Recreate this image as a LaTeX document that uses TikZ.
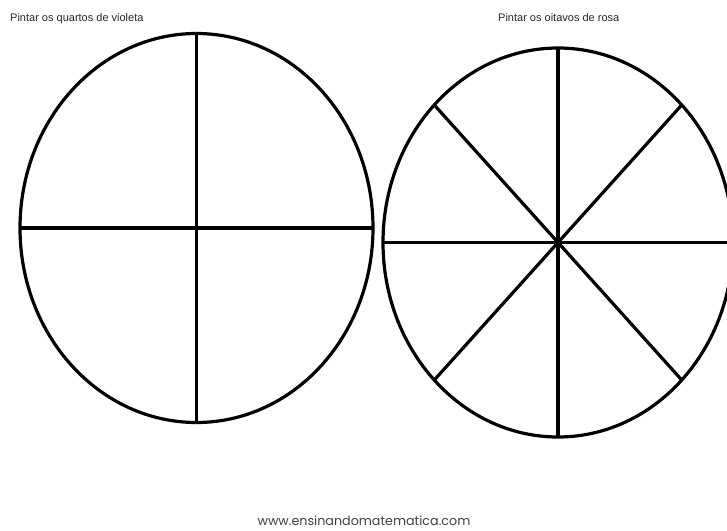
\documentclass[tikz,border=0pt]{standalone}
\usepackage{fontspec}
\usetikzlibrary{calc}
\setmainfont{Liberation Sans}
\newfontfamily\sitefont{Poppins}
\tikzset{
  disc/.style={draw=black, line width=3.2pt},
  cut/.style={draw=black, line width=3.2pt},
  caption/.style={inner sep=0pt, font=\fontsize{11}{13}\selectfont, text=black!85},
  site/.style={inner sep=0pt, font=\sitefont\fontsize{12.7}{14}\selectfont, text=black!75}
}
\begin{document}
\begin{tikzpicture}[x=1pt,y=-1pt]
\useasboundingbox (0,0) rectangle (727,530);
\clip (0,0) rectangle (727,530);
% left circle (quarters)
\coordinate (L) at (196.5,228);
\draw[disc] (L) ellipse [x radius=176.5, y radius=194.5];
\coordinate (Lt) at ($(L)+(0,-194.5)$);
\coordinate (Lb) at ($(L)+(0,194.5)$);
\coordinate (Ll) at ($(L)+(-176.5,0)$);
\coordinate (Lr) at ($(L)+(176.5,0)$);
\draw[cut] (Lt) -- (Lb);
\draw[cut] (Ll) -- (Lr);
% right circle (eighths)
\coordinate (R) at (558,242.5);
\draw[disc] (R) ellipse [x radius=175, y radius=194.5];
\coordinate (Rt) at ($(R)+(0,-194.5)$);
\coordinate (Rb) at ($(R)+(0,194.5)$);
\coordinate (Rl) at ($(R)+(-175,0)$);
\coordinate (Rr) at ($(R)+(175,0)$);
\coordinate (R1) at ($(R)+(-123.7,-137.5)$);
\coordinate (R2) at ($(R)+(123.7,-137.5)$);
\coordinate (R3) at ($(R)+(-123.7,137.5)$);
\coordinate (R4) at ($(R)+(123.7,137.5)$);
\draw[cut] (Rt) -- (Rb);
\draw[cut] (Rl) -- (Rr);
\draw[cut] (R1) -- (R4);
\draw[cut] (R2) -- (R3);
% texts
\node[caption, anchor=base west] (tl) at (10,21.5) {Pintar os quartos de violeta};
\node[caption, anchor=base west] (tr) at (498,21.5) {Pintar os oitavos de rosa};
\node[site, anchor=base] (ws) at (364,525) {www.ensinandomatematica.com};
\end{tikzpicture}
\end{document}
